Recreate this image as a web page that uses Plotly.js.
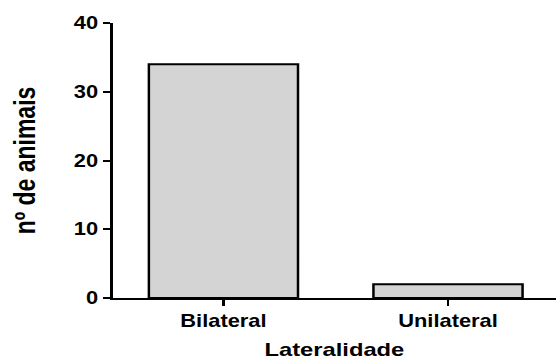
<!DOCTYPE html>
<html>
<head>
<meta charset="utf-8">
<script src="https://cdn.plot.ly/plotly-3.0.1.min.js"></script>
<style>
  html, body { margin: 0; padding: 0; background: #fff; overflow: hidden; }
  /* the figure is laid out narrow and widened horizontally */
  #chart { width: 445px; height: 360px; transform: scaleX(1.25); transform-origin: 0 0; }
</style>
</head>
<body>
<div id="chart"></div>
<script>
const categories = ["Bilateral", "Unilateral"];
const counts = [34, 2];
const yTicks = [0, 10, 20, 30, 40];

const font = { family: "Liberation Sans, Arial, sans-serif", color: "#000", weight: 700 };

const trace = {
  type: "bar",
  x: categories,
  y: counts,
  width: 0.664,
  marker: { color: "#d4d4d4", line: { color: "#000", width: 2 } },
  hoverinfo: "skip"
};

const layout = {
  width: 445,
  height: 360,
  margin: { l: 89.6, r: 0, t: 23, b: 62 },
  paper_bgcolor: "#fff",
  plot_bgcolor: "#fff",
  showlegend: false,
  font: Object.assign({ size: 17.5 }, font),
  xaxis: {
    type: "category",
    range: [-0.494, 1.482],
    showline: true, linecolor: "#000", linewidth: 2,
    showgrid: false, zeroline: false,
    ticks: "outside", ticklen: 6, tickwidth: 2, tickcolor: "#000",
    tickfont: Object.assign({ size: 17.5 }, font),
    title: { text: "Lateralidade", font: Object.assign({ size: 19 }, font), standoff: 14 },
    automargin: false
  },
  yaxis: {
    range: [0, 40],
    tickvals: yTicks,
    ticktext: yTicks.map(String),
    showline: true, linecolor: "#000", linewidth: 2,
    showgrid: false, zeroline: false,
    ticks: "outside", ticklen: 6, tickwidth: 2, tickcolor: "#000",
    tickfont: Object.assign({ size: 17.5 }, font),
    title: { text: "nº de animais", font: Object.assign({ size: 23 }, font), standoff: 24 },
    automargin: false
  }
};

Plotly.newPlot("chart", [trace], layout, { displayModeBar: false, staticPlot: true });
</script>
</body>
</html>
